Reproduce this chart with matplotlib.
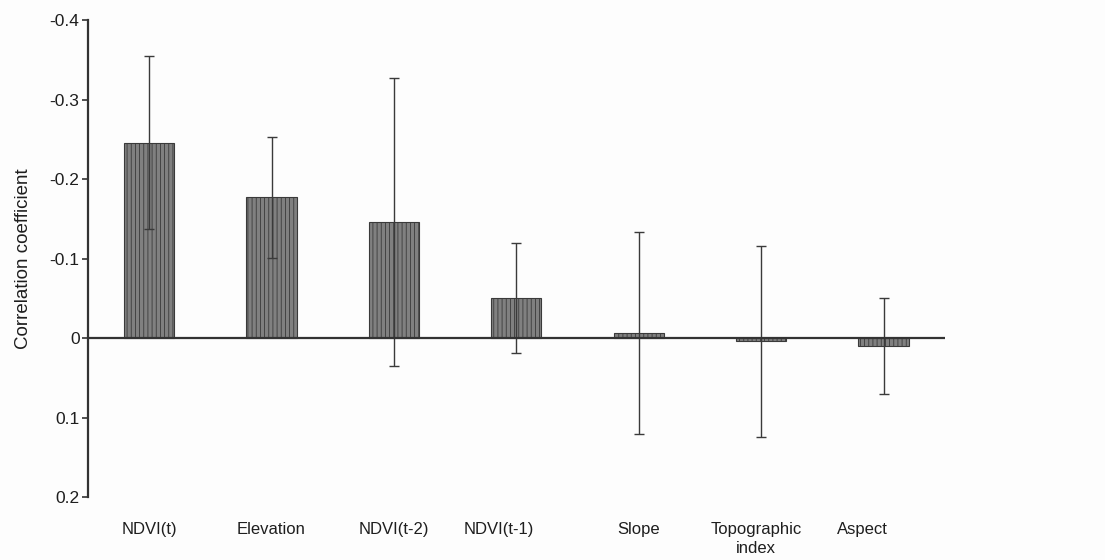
import matplotlib
matplotlib.use("Agg")
import matplotlib.pyplot as plt
import numpy as np

plt.rcParams['font.family'] = ['Liberation Sans', 'DejaVu Sans']
plt.rcParams['hatch.color'] = '#505050'
plt.rcParams['hatch.linewidth'] = 0.6

categories = ["NDVI(t)", "Elevation", "NDVI(t-2)", "NDVI(t-1)", "Slope",
              "Topographic\nindex", "Aspect"]
values = [-0.246, -0.177, -0.146, -0.050, -0.006, 0.004, 0.010]
errors = [0.109, 0.076, 0.181, 0.069, 0.127, 0.120, 0.060]
ytick_values = [-0.4, -0.3, -0.2, -0.1, 0.0, 0.1, 0.2]
ytick_labels = ["-0.4", "-0.3", "-0.2", "-0.1", "0", "0.1", "0.2"]

# visual label offsets (in category units) to mimic original layout
label_offsets = [0.0, 0.0, 0.0, -0.14, 0.0, -0.04, -0.17]

fig = plt.figure(figsize=(11.05, 5.6), dpi=100)
fig.patch.set_facecolor('#fdfdfd')
ax = fig.add_axes([0.0796, 0.1125, 0.7754, 0.8515])
ax.set_facecolor('#fdfdfd')

x = np.arange(len(categories))
ax.bar(x, values, width=0.41, color='#808080', edgecolor='#3a3a3a',
       linewidth=0.8, hatch='||||', zorder=2)
ax.errorbar(x, values, yerr=errors, fmt='none', ecolor='#3a3a3a',
            elinewidth=1.0, capsize=3.5, capthick=1.0, zorder=3)

# inverted axis: -0.4 at top, 0.2 at bottom
ax.set_ylim(0.2, -0.4)
ax.set_xlim(-0.5, 6.5)

ax.axhline(0, color='#333333', linewidth=1.6, zorder=4)

ax.set_yticks(ytick_values)
ax.set_yticklabels(ytick_labels, fontsize=12.5, color='#1e1e1e')
ax.tick_params(axis='y', direction='out', length=4, width=1.2, color='#333333', pad=2)
ax.set_xticks([])

for s in ['top', 'right', 'bottom']:
    ax.spines[s].set_visible(False)
ax.spines['left'].set_linewidth(1.6)
ax.spines['left'].set_color('#333333')

for i, (lab, off) in enumerate(zip(categories, label_offsets)):
    ax.text(i + off, 0.231, lab, ha='center', va='top', fontsize=12,
            color='#1e1e1e', linespacing=1.4)

ax.set_ylabel("Correlation coefficient", fontsize=13.5, color='#1e1e1e',
              labelpad=13)

fig.savefig("out.png", dpi=100, facecolor=fig.get_facecolor())
